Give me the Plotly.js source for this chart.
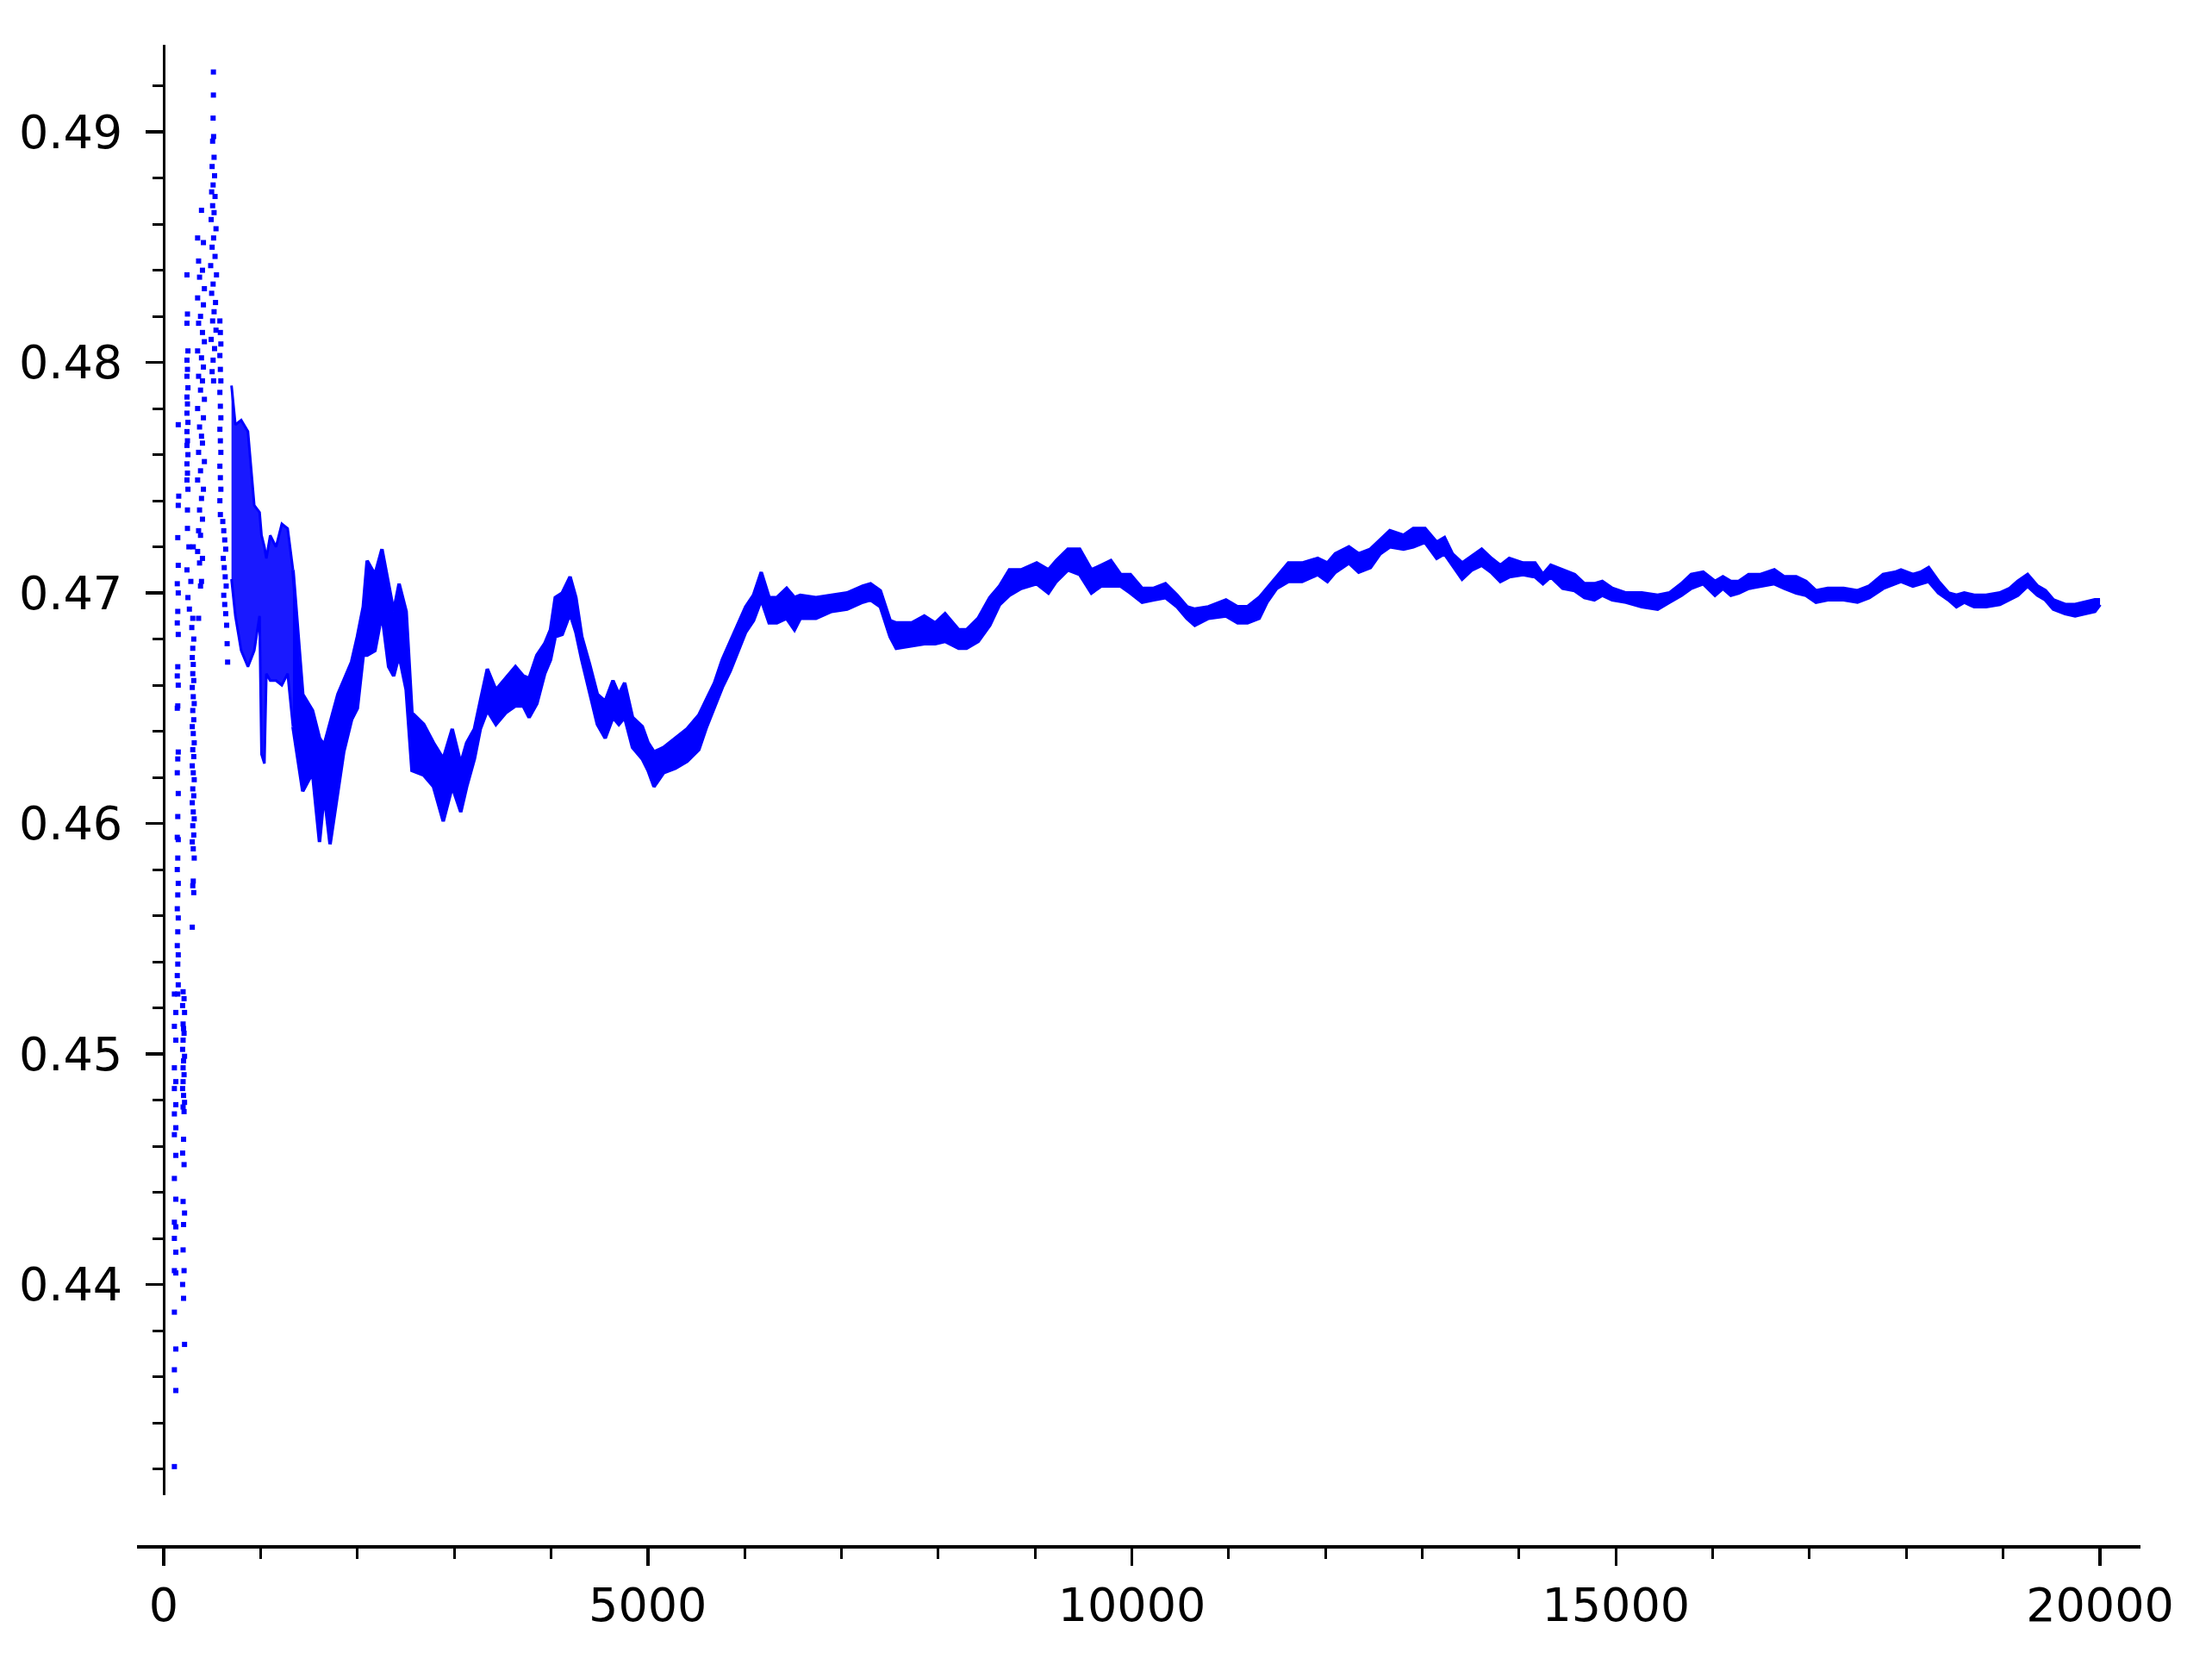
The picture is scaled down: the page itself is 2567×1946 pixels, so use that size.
<!DOCTYPE html>
<html>
<head>
<meta charset="utf-8">
<script src="https://cdn.plot.ly/plotly-3.0.1.min.js"></script>
<style>
  body { margin: 0; background: #fff; }
  #plot { width: 2567px; height: 1946px; }
</style>
</head>
<body>
<div id="plot"></div>
<script>
// early scattered points (n < ~700)
var dotX = [
  // column near n=110
  110,125,110,125,110,125,110,125,110,125,110,125,110,125,110,125,110,125,110,125,110,125,110,125,110,
  // column near n=200
  200,210,195,215,200,205,210,200,195,215,205,200,210,200,195,205,215,200,210,
  205,195,210,200,215,205,200,210,195,205,215,
  // column near n=145 (upper part)
  145,150,140,150,145,140,150,145,140,150,145,140,150,145,140,150,145,140,150,145,140,150,145,140,150,145,140,150,145,140,150,145,
  150,155,150,
  // column near n=240-330
  245,260,240,280,250,265,300,290,310,300,295,305,
  300,310,295,305,315,300,310,295,305,315,300,310,295,305,315,300,310,295,305,315,300,310,295,305,315,305,
  300,310,295,305,
  // column near n=240 (upper part)
  240,245,240,250,240,245,240,250,240,245,240,250,240,245,240,250,240,245,240,250,245,
  // column near n=340-430
  390,350,410,360,400,370,420,350,410,380,360,400,420,350,390,410,360,400,380,420,350,410,370,390,400,360,420,380,350,410,390,370,400,
  360,380,350,400,370,390,380,360,
  // column near n=475-565
  513,513,510,515,505,520,500,525,510,495,530,505,520,490,540,515,500,530,485,545,510,495,535,520,505,540,490,525,510,500,515,
  // column near n=580-670
  580,585,590,580,585,590,580,585,590,580,585,590,580,585,590,580,585,
  610,620,630,640,615,625,635,645,620,630,640,650,655,660
];
var dotY = [
  0.4526,0.4518,0.4512,0.4506,0.4494,0.4488,0.4485,0.4478,0.4474,0.4468,0.4465,0.4456,0.4446,0.4437,0.4427,0.4425,0.4420,0.4414,0.4406,0.4405,0.4388,0.4372,0.4363,0.4354,0.4321,
  0.4527,0.4524,0.4521,0.4518,0.4513,0.4511,0.4509,0.4506,0.4502,0.4499,0.4497,0.4494,0.4491,0.4488,0.4485,0.4482,0.4479,0.4477,0.4475,
  0.4463,0.4457,0.4452,0.4436,0.4431,0.4426,0.4415,0.4406,0.4400,0.4394,0.4374,
  0.4724,0.4712,0.4704,0.4700,0.4692,0.4687,0.4682,0.4668,0.4664,0.4660,0.4651,0.4650,0.4631,0.4628,0.4622,0.4613,0.4603,0.4594,0.4593,0.4585,0.4580,0.4574,0.4569,0.4563,0.4559,0.4553,0.4547,0.4543,0.4539,0.4534,0.4530,0.4526,
  0.4773,0.4742,0.4738,
  0.4728,0.4720,0.4710,0.4705,0.4698,0.4693,0.4689,0.4685,0.4680,0.4676,0.4672,0.4669,
  0.4665,0.4662,0.4659,0.4655,0.4652,0.4649,0.4645,0.4642,0.4639,0.4635,0.4632,0.4629,0.4625,0.4622,0.4619,0.4615,0.4612,0.4609,0.4605,0.4602,0.4599,0.4595,0.4592,0.4589,0.4585,0.4575,
  0.4573,0.4570,0.4555,0.4720,
  0.4838,0.4821,0.4817,0.4805,0.4801,0.4797,0.4794,0.4789,0.4785,0.4782,0.4778,0.4774,0.4770,0.4766,0.4764,0.4760,0.4756,0.4752,0.4749,0.4745,0.4736,
  0.4866,0.4854,0.4852,0.4844,0.4840,0.4837,0.4832,0.4828,0.4825,0.4820,0.4817,0.4813,0.4809,0.4805,0.4802,0.4798,0.4794,0.4792,0.4788,0.4784,0.4780,0.4776,0.4772,0.4768,0.4765,0.4761,0.4757,0.4753,0.4749,0.4745,0.4741,0.4736,0.4732,
  0.4727,0.4725,0.4718,0.4715,0.4713,0.4705,0.4703,0.4689,
  0.4926,0.4916,0.4906,0.4898,0.4896,0.4889,0.4885,0.4881,0.4877,0.4874,0.4872,0.4868,0.4865,0.4862,0.4858,0.4854,0.4850,0.4846,0.4842,0.4838,0.4834,0.4830,0.4826,0.4822,0.4818,0.4814,0.4810,0.4806,0.4801,0.4796,0.4792,
  0.4818,0.4813,0.4808,0.4803,0.4797,0.4792,0.4787,0.4781,0.4776,0.4771,0.4766,0.4761,0.4755,0.4750,0.4745,0.4740,0.4734,
  0.4731,0.4727,0.4723,0.4719,0.4715,0.4711,0.4707,0.4703,0.4699,0.4695,0.4691,0.4686,0.4678,0.4670
];

// loose cluster (n = 700..1335): upper and lower edge
var clusterX = [700,740,800,870,935,990,1010,1040,1060,1100,1160,1220,1280,1335];
var clusterTop = [0.4790,0.4773,0.4775,0.4770,0.4738,0.4735,0.4725,0.4720,0.4715,0.4725,0.4720,0.4730,0.4728,0.4710];
var clusterBot = [0.4706,0.4690,0.4675,0.4668,0.4675,0.4690,0.4630,0.4626,0.4665,0.4662,0.4662,0.4660,0.4665,0.4642];

// dense band (n >= 1335): upper and lower edge
var bandX = [
  1335,1436,1537,1609,1657,1718,1799,1859,1940,2000,2061,2101,2182,2254,2323,2375,2431,2504,2564,2685,2786,2887,2980,3068,3129,3209,3270,3342,3431,3532,3633,3713,3774,3854,3935,3995,4044,4116,4197,4257,4318,4399,4479,4560,4640,4701,4761,4842,4943,5003,5064,5164,5285,5406,5527,5608,5689,5769,5850,5930,6011,6092,6172,6253,6333,6434,6515,6575,6737,6898,7059,7220,7301,7402,7503,
  7566,7727,7856,7969,8070,8211,8292,8413,8533,8634,8735,8856,9017,9138,9219,9340,9461,9582,9682,9783,9884,9985,10106,10226,10347,10468,10569,10650,10791,10972,11093,11194,11315,11395,11496,11617,11758,11919,12020,12101,12242,12343,12464,12564,12665,12806,12907,13028,13149,13229,13310,13411,13512,13613,13713,13806,
  13898,14041,14164,14246,14327,14450,14573,14675,14777,14859,14961,15104,15267,15431,15553,15676,15778,15901,16023,16105,16187,16269,16371,16494,16636,16739,16862,16963,17066,17188,17352,17495,17617,17760,17883,17944,18067,18149,18230,18332,18435,18517,18598,18700,18823,18966,19068,19150,19252,19354,19436,19518,19640,19743,19845,19947,20000
];
var bandTop = [
  0.4710,0.4656,0.4649,0.4637,0.4634,0.4643,0.4656,0.4662,0.4670,0.4681,0.4694,0.4714,0.4708,0.4719,0.4704,0.4692,0.4704,0.4692,0.4648,0.4643,0.4635,0.4628,0.4641,0.4626,0.4635,0.4641,0.4653,0.4667,0.4658,0.4663,0.4668,0.4664,0.4663,0.4673,0.4678,0.4684,0.4698,0.4700,0.4707,0.4698,0.4681,0.4669,0.4656,0.4653,0.4662,0.4656,0.4661,0.4646,0.4642,0.4635,0.4631,0.4633,0.4637,0.4641,0.4647,0.4654,0.4661,0.4671,0.4679,0.4686,0.4694,0.4699,0.4709,0.4698,0.4698,0.4702,0.4698,0.4699,0.4698,0.4699,0.4700,0.4703,0.4704,0.4701,0.4688,
  0.4687,0.4687,0.4690,0.4687,0.4691,0.4684,0.4684,0.4689,0.4698,0.4703,0.4710,0.4710,0.4713,0.4710,0.4714,0.4719,0.4719,0.4710,0.4712,0.4714,0.4708,0.4708,0.4702,0.4702,0.4704,0.4699,0.4694,0.4693,0.4694,0.4697,0.4694,0.4694,0.4698,0.4702,0.4707,0.4713,0.4713,0.4715,0.4713,0.4717,0.4720,0.4717,0.4719,0.4723,0.4727,0.4725,0.4728,0.4728,0.4722,0.4724,0.4717,0.4713,0.4716,0.4719,0.4715,0.4712,
  0.4715,0.4713,0.4713,0.4708,0.4712,0.4710,0.4708,0.4704,0.4704,0.4705,0.4702,0.4700,0.4700,0.4699,0.4700,0.4704,0.4708,0.4709,0.4705,0.4707,0.4705,0.4705,0.4708,0.4708,0.4710,0.4707,0.4707,0.4705,0.4701,0.4702,0.4702,0.4701,0.4703,0.4708,0.4709,0.4710,0.4708,0.4709,0.4711,0.4705,0.4700,0.4699,0.4700,0.4699,0.4699,0.4700,0.4702,0.4705,0.4708,0.4703,0.4701,0.4697,0.4695,0.4695,0.4696,0.4697,0.4697
];
var bandBot = [
  0.4642,0.4614,0.4622,0.4592,0.4613,0.4591,0.4614,0.4631,0.4645,0.4650,0.4673,0.4673,0.4675,0.4691,0.4668,0.4664,0.4673,0.4658,0.4623,0.4621,0.4616,0.4601,0.4616,0.4605,0.4616,0.4628,0.4641,0.4649,0.4643,0.4648,0.4651,0.4651,0.4646,0.4652,0.4665,0.4671,0.4681,0.4682,0.4691,0.4683,0.4671,0.4657,0.4643,0.4637,0.4646,0.4643,0.4646,0.4633,0.4628,0.4623,0.4616,0.4622,0.4624,0.4627,0.4632,0.4642,0.4651,0.4659,0.4666,0.4674,0.4683,0.4688,0.4697,0.4687,0.4687,0.4689,0.4684,0.4689,0.4689,0.4692,0.4693,0.4696,0.4697,0.4694,0.4681,
  0.4676,0.4677,0.4678,0.4678,0.4679,0.4676,0.4676,0.4679,0.4686,0.4695,0.4699,0.4702,0.4704,0.4700,0.4705,0.4710,0.4708,0.4700,0.4703,0.4703,0.4703,0.4700,0.4696,0.4697,0.4698,0.4694,0.4689,0.4686,0.4689,0.4690,0.4687,0.4687,0.4689,0.4696,0.4702,0.4705,0.4705,0.4708,0.4705,0.4709,0.4713,0.4709,0.4711,0.4717,0.4720,0.4719,0.4720,0.4722,0.4715,0.4717,0.4712,0.4706,0.4710,0.4712,0.4709,0.4705,
  0.4707,0.4708,0.4707,0.4704,0.4707,0.4702,0.4701,0.4698,0.4697,0.4699,0.4697,0.4696,0.4694,0.4693,0.4696,0.4699,0.4702,0.4704,0.4699,0.4702,0.4699,0.4700,0.4702,0.4703,0.4704,0.4702,0.4700,0.4699,0.4696,0.4697,0.4697,0.4696,0.4698,0.4702,0.4704,0.4705,0.4703,0.4704,0.4705,0.4700,0.4697,0.4694,0.4696,0.4694,0.4694,0.4695,0.4697,0.4699,0.4703,0.4699,0.4697,0.4693,0.4691,0.4690,0.4691,0.4692,0.4695
];

var blue = '#0000ff';
var font = {family: 'DejaVu Sans', size: 54, color: '#000'};

var traceDots = {
  x: dotX, y: dotY,
  type: 'scatter', mode: 'markers',
  marker: {symbol: 'square', size: 6, color: blue, line: {width: 0}}
};
// packed dots before the band settles: nearly solid
var traceClusterBot = {
  x: clusterX, y: clusterBot,
  type: 'scatter', mode: 'lines',
  line: {color: blue, width: 3}
};
var traceClusterTop = {
  x: clusterX, y: clusterTop,
  type: 'scatter', mode: 'lines',
  fill: 'tonexty', fillcolor: 'rgba(0,0,255,0.9)',
  line: {color: blue, width: 3}
};
var traceBot = {
  x: bandX, y: bandBot,
  type: 'scatter', mode: 'lines',
  line: {color: blue, width: 4}
};
var traceTop = {
  x: bandX, y: bandTop,
  type: 'scatter', mode: 'lines',
  fill: 'tonexty', fillcolor: blue,
  line: {color: blue, width: 4}
};

var layout = {
  width: 2567,
  height: 1946,
  showlegend: false,
  hovermode: false,
  paper_bgcolor: '#fff',
  plot_bgcolor: '#fff',
  font: font,
  margin: {l: 159, r: 83, t: 52, b: 152},
  xaxis: {
    domain: [0, 1],
    range: [-276, 20418],
    anchor: 'free',
    position: 0,
    showline: true, linecolor: '#000', linewidth: 3.5,
    showgrid: false, zeroline: false,
    ticks: 'outside', ticklen: 20, tickwidth: 3.5, tickcolor: '#000',
    tick0: 0, dtick: 5000, tickformat: 'd',
    tickfont: font,
    ticklabelstandoff: 0,
    minor: {dtick: 1000, tick0: 0, ticks: 'outside', ticklen: 12, tickwidth: 3, tickcolor: '#000', showgrid: false}
  },
  yaxis: {
    domain: [0.03387, 1],
    range: [0.43086, 0.49378],
    anchor: 'free',
    position: 0.01333,
    showline: true, linecolor: '#000', linewidth: 3.5,
    showgrid: false, zeroline: false,
    ticks: 'outside', ticklen: 20, tickwidth: 3.5, tickcolor: '#000',
    tick0: 0.44, dtick: 0.01, tickformat: '.2f',
    tickfont: font,
    ticklabelstandoff: 16,
    minor: {dtick: 0.002, tick0: 0.44, ticks: 'outside', ticklen: 12, tickwidth: 3, tickcolor: '#000', showgrid: false}
  }
};

Plotly.newPlot('plot', [traceDots, traceClusterBot, traceClusterTop, traceBot, traceTop], layout, {staticPlot: true});
</script>
</body>
</html>
